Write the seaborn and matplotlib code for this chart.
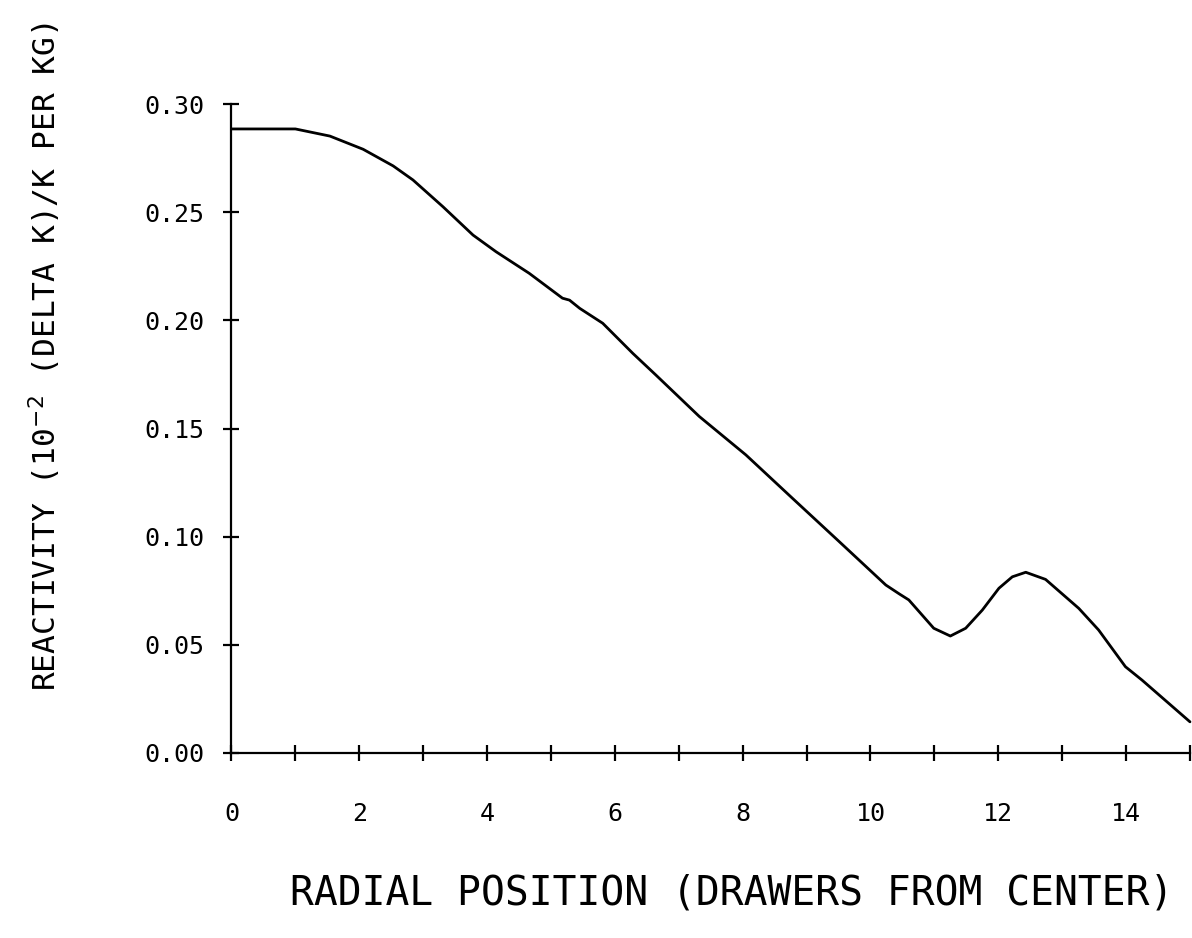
import matplotlib
matplotlib.use("Agg")
import matplotlib.pyplot as plt
import seaborn as sns
import pandas as pd

# Radial reactivity worth profile
radial_position = [0.0, 1.0, 1.54, 2.06, 2.53, 2.84, 3.31, 3.78, 4.14, 4.66,
                   5.18, 5.29, 5.45, 5.81, 6.28, 6.64, 7.32, 8.05, 8.78, 9.51,
                   10.24, 10.45, 10.60, 10.99, 11.25, 11.49, 11.75, 12.01, 12.22,
                   12.43, 12.74, 13.26, 13.57, 13.99, 14.25, 15.0]
reactivity = [0.2886, 0.2886, 0.2853, 0.2792, 0.2715, 0.2650, 0.2526, 0.2395,
              0.2318, 0.2218, 0.2103, 0.2094, 0.2056, 0.1987, 0.1848, 0.1748,
              0.1556, 0.1378, 0.1177, 0.0977, 0.0776, 0.0735, 0.0707, 0.0576,
              0.0540, 0.0576, 0.0660, 0.0761, 0.0814, 0.0835, 0.0802, 0.0668,
              0.0568, 0.0398, 0.0336, 0.0143]

x_ticks = list(range(16))
x_tick_labels = [str(v) if v % 2 == 0 else "" for v in x_ticks]
y_ticks = [0.00, 0.05, 0.10, 0.15, 0.20, 0.25, 0.30]
y_tick_labels = [f"{v:.2f}" for v in y_ticks]

x_title = "RADIAL POSITION (DRAWERS FROM CENTER)"
y_title = "REACTIVITY (10$^{-2}$ (DELTA K)/K PER KG)"

sns.set_style("ticks")
plt.rcParams["font.family"] = ["DejaVu Sans Mono", "DejaVu Sans"]
plt.rcParams["mathtext.fontset"] = "dejavusans"
plt.rcParams["text.color"] = "black"
plt.rcParams["axes.labelcolor"] = "black"

df = pd.DataFrame({"pos": radial_position, "rho": reactivity})

fig = plt.figure(figsize=(11.92, 9.38), dpi=100)
ax = fig.add_axes([0.1942, 0.1975, 0.8041, 0.6913])

sns.lineplot(data=df, x="pos", y="rho", color="black", linewidth=2.0,
             sort=False, ax=ax, clip_on=False)

ax.set_xlim(0, 15)
ax.set_ylim(0, 0.30)
ax.set_xticks(x_ticks)
ax.set_xticklabels(x_tick_labels)
ax.set_yticks(y_ticks)
ax.set_yticklabels(y_tick_labels)

for side in ("top", "right"):
    ax.spines[side].set_visible(False)
for side in ("left", "bottom"):
    ax.spines[side].set_linewidth(1.6)
    ax.spines[side].set_color("black")

ax.tick_params(axis="both", direction="inout", length=11, width=1.6,
               colors="black", labelcolor="black", labelsize=18)
ax.tick_params(axis="x", pad=30)
ax.tick_params(axis="y", pad=14)

ax.set_xlabel(x_title, fontsize=28.5, color="black")
ax.set_ylabel(y_title, fontsize=22.5, color="black")
ax.xaxis.set_label_coords(0.522, -0.186)
ax.yaxis.set_label_coords(-0.176, 0.61)

fig.savefig("out.png", dpi=100, facecolor="white")
